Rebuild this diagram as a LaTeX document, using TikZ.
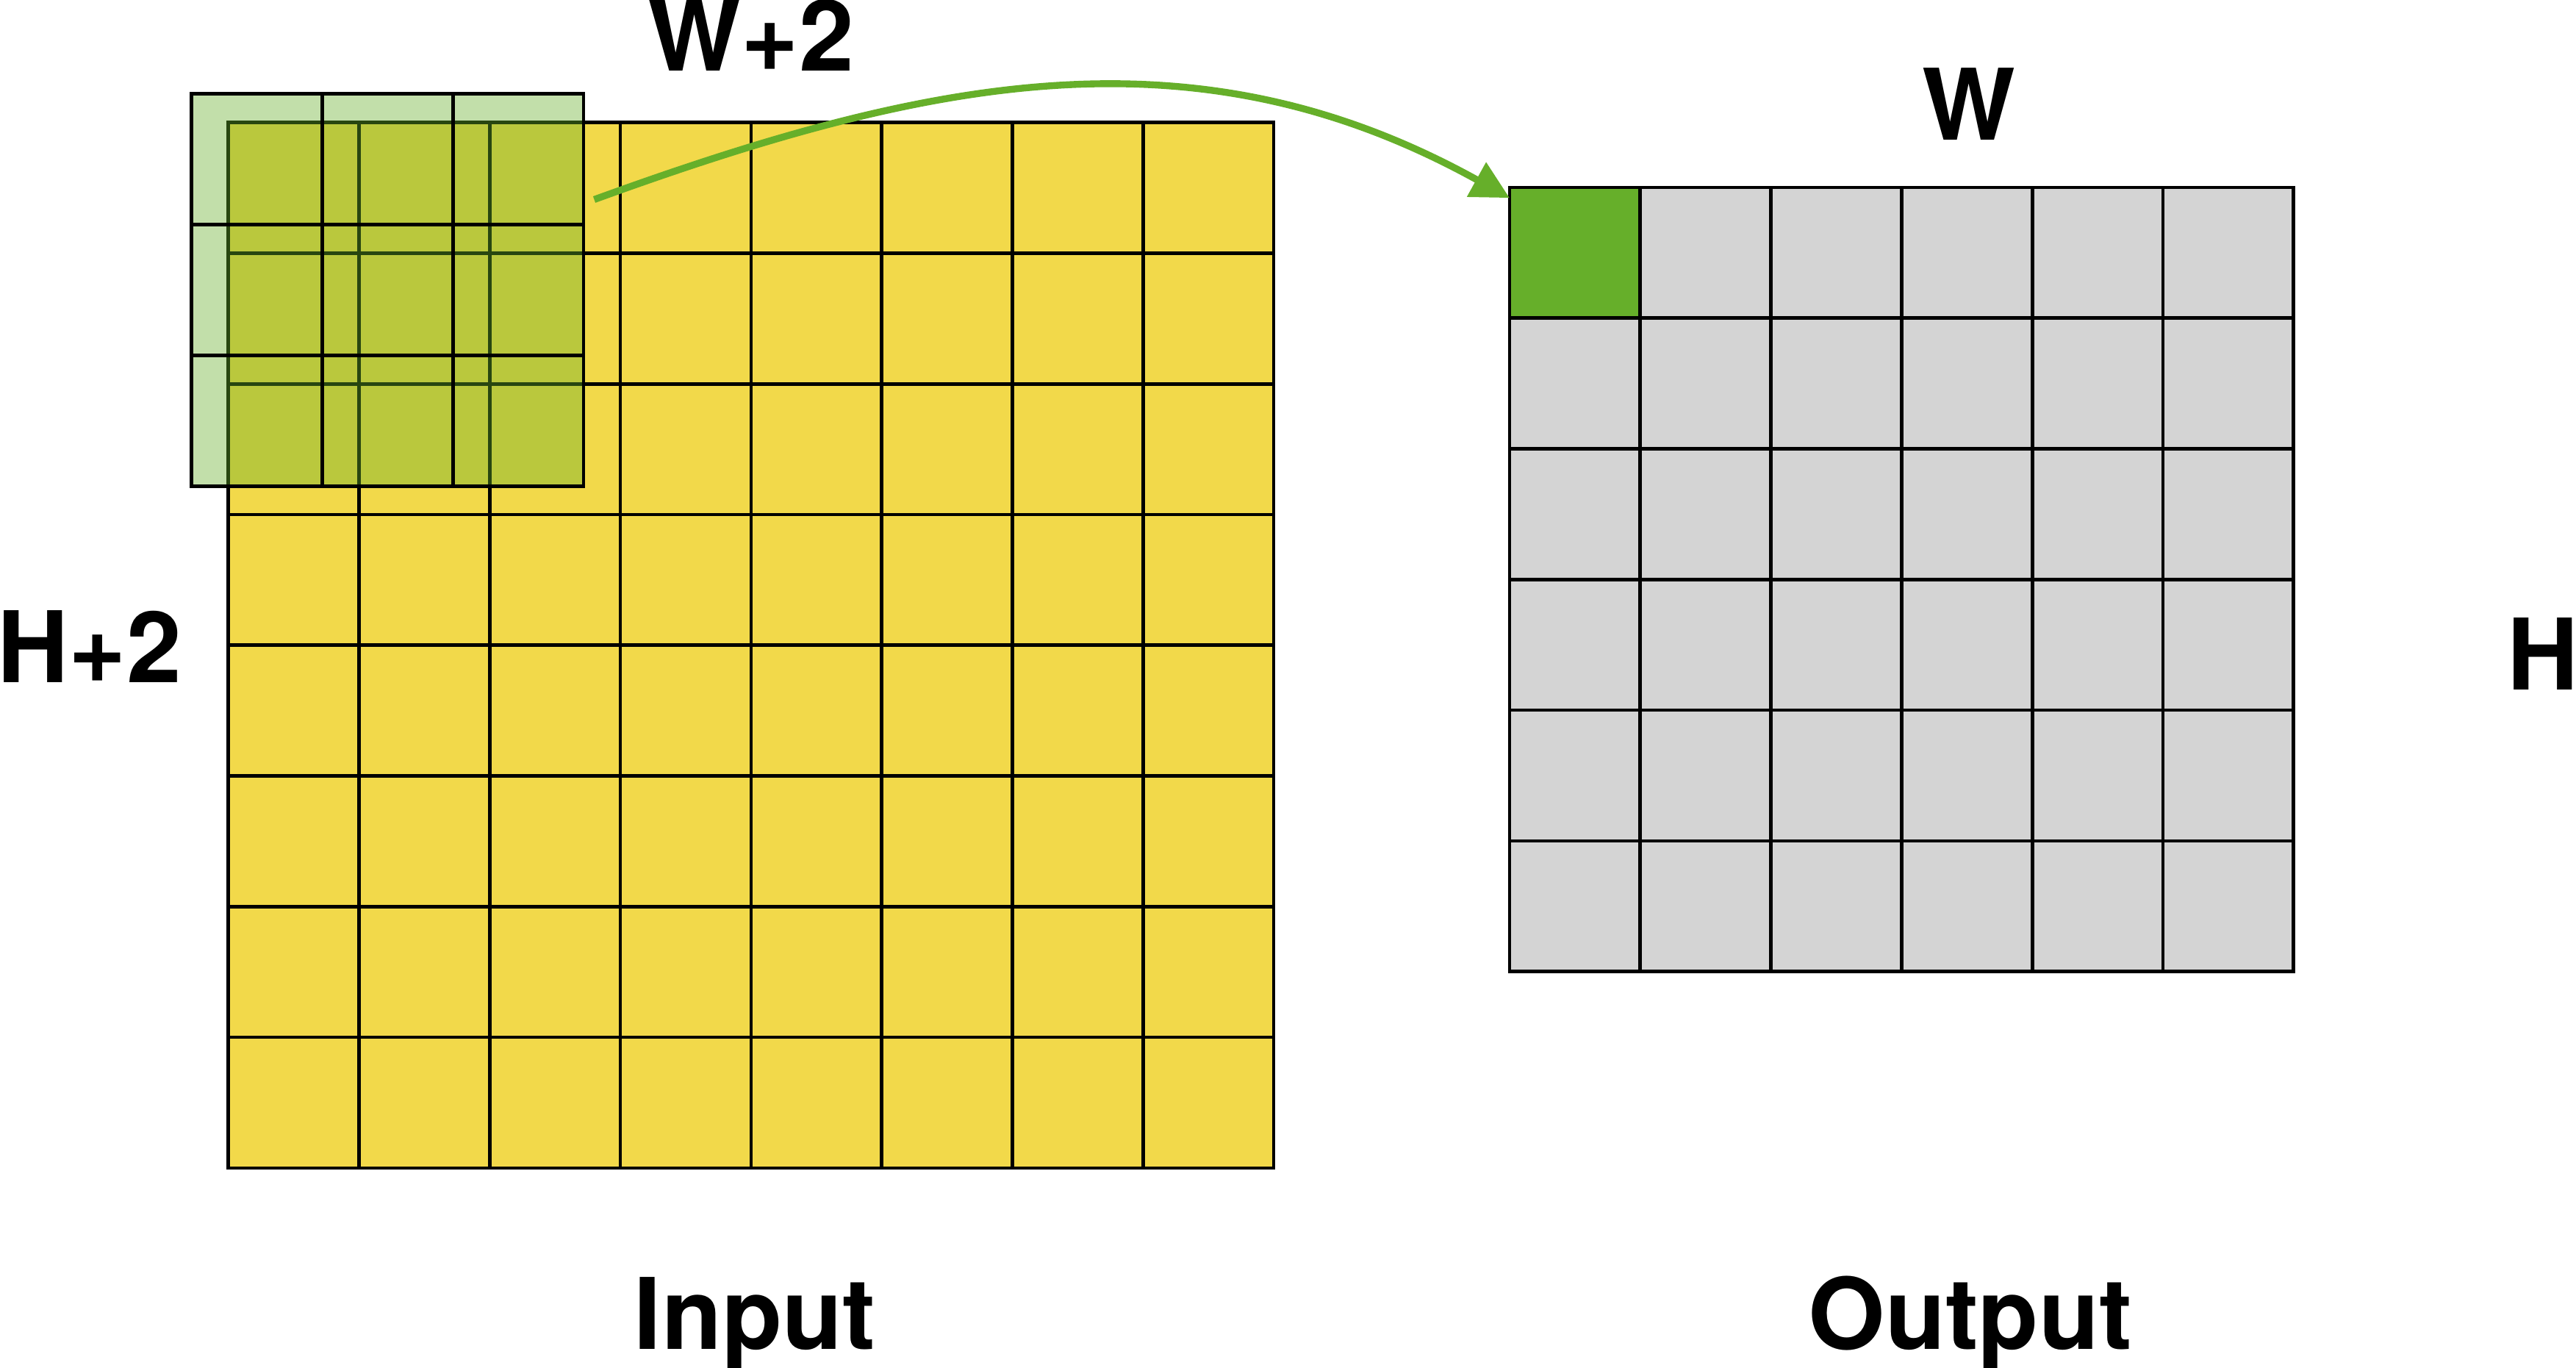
\documentclass[tikz,border=0pt]{standalone}
\usepackage{fontspec}
\setmainfont{TeX Gyre Heros}
\usetikzlibrary{arrows.meta,positioning}
\definecolor{inyellow}{HTML}{F2D94A}
\definecolor{outgray}{HTML}{D4D4D4}
\definecolor{kgreen}{HTML}{66AF2A}
\tikzset{>={Triangle[length=2.9mm,width=2.9mm]}}
\tikzset{lbl/.style={font=\fontsize{21.5}{26}\selectfont\bfseries,inner sep=0pt,anchor=base}}

\begin{document}
\begin{tikzpicture}[line width=0.75pt,
        cell/.style={draw,minimum size=1cm,inner sep=0pt,outer sep=0pt}]
    \useasboundingbox (-1.7475,-1.530) rectangle (17.966,8.937);
    % input, padded
    \node[cell,fill=inyellow,minimum size=8cm] (in) at (4,4) {};
    \draw (in.south west) grid (in.north east);
    % 3x3 kernel
    \node[cell,fill=kgreen,fill opacity=0.4,minimum size=3cm] (kern) at (1.219,6.718) {};
    \draw[shift={(kern.south west)}] (0,0) grid (3,3);
    % output
    \node[cell,fill=outgray,minimum size=6cm] (out) at (12.805,4.503) {};
    \node[cell,fill=kgreen,anchor=north west] (o11) at (out.north west) {};
    \draw[shift={(out.south west)}] (0,0) grid (6,6);
    \coordinate (src) at (2.8,7.41);
    \path[->]
        (src) edge[kgreen,line width=1.5pt,out=20,in=151] (o11.140)
    ;
    % labels
    \node[lbl] (wtwo)   at (4.0,8.393)    {W+2};
    \node[lbl] (htwo)   at (-1.063,3.716) {H+2};
    \node[lbl] (wout)   at (13.32,7.868)  {W};
    \node[lbl] (hout)   at (17.71,3.656)  {H};
    \node[lbl] (inlbl)  at (4.03,-1.386)  {Input};
    \node[lbl] (outlbl) at (13.33,-1.386) {Output};
\end{tikzpicture}
\end{document}
